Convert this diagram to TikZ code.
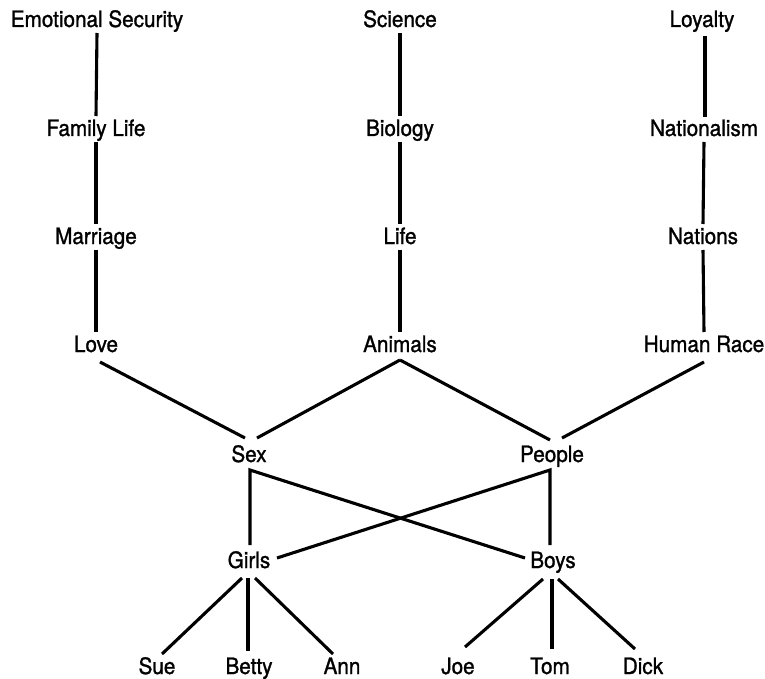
\documentclass[tikz,border=0pt]{standalone}
\usepackage{fontspec}
\setmainfont{TeX Gyre Heros}[FakeStretch=0.92,FakeBold=1.2]
\usetikzlibrary{calc}
\begin{document}
\begin{tikzpicture}[x=1pt,y=-1pt,
  lbl/.style={anchor=base, inner sep=0pt, font=\fontsize{22.5}{24}\selectfont},
  edge/.style={line width=3.1pt, line cap=butt}]
\useasboundingbox (0,0) rectangle (765,679);
% row 1
\node[lbl] (es)  at (97,27)  {Emotional Security};
\node[lbl] (sci) at (400,27) {Science};
\node[lbl] (loy) at (702,27) {Loyalty};
% row 2
\node[lbl] (fam) at (96,136)  {Family Life};
\node[lbl] (bio) at (400,136) {Biology};
\node[lbl] (nat) at (704,136) {Nationalism};
% row 3
\node[lbl] (mar) at (96,244)  {Marriage};
\node[lbl] (life) at (400,244) {Life};
\node[lbl] (nats) at (703,244) {Nations};
% row 4
\node[lbl] (love) at (96,352)  {Love};
\node[lbl] (ani)  at (400,352) {Animals};
\node[lbl] (hum)  at (704,352) {Human Race};
% row 5
\node[lbl] (sex) at (249,462) {Sex};
\node[lbl] (peo) at (552,462) {People};
% row 6
\node[lbl] (girls) at (249,568) {Girls};
\node[lbl] (boys)  at (553,568) {Boys};
% row 7
\node[lbl] (sue)   at (157,674) {Sue};
\node[lbl] (betty) at (249,674) {Betty};
\node[lbl] (ann)   at (342,674) {Ann};
\node[lbl] (joe)   at (458,674) {Joe};
\node[lbl] (tom)   at (550,674) {Tom};
\node[lbl] (dick)  at (643,674) {Dick};
% vertical chains
\draw[edge] ($(es.base)+(0,6)$) -- ($(fam.base)+(0,-20)$);
\draw[edge] ($(fam.base)+(0,6)$) -- ($(mar.base)+(0,-20)$);
\draw[edge] ($(mar.base)+(0,6)$) -- ($(love.base)+(0,-20)$);
\draw[edge] ($(sci.base)+(0,6)$) -- ($(bio.base)+(0,-20)$);
\draw[edge] ($(bio.base)+(0,6)$) -- ($(life.base)+(0,-20)$);
\draw[edge] ($(life.base)+(0,6)$) -- ($(ani.base)+(0,-20)$);
\draw[edge] ($(loy.base)+(3,9)$) -- ($(nat.base)+(1,-19)$);
\draw[edge] ($(nat.base)+(0,6)$) -- ($(nats.base)+(0,-20)$);
\draw[edge] ($(nats.base)+(0,6)$) -- ($(hum.base)+(0,-20)$);
% to Sex / People
\draw[edge] ($(love.base)+(4,10)$) -- ($(sex.base)+(-4,-24)$);
\draw[edge] ($(ani.base)+(0,8)$) -- ($(sex.base)+(8,-24)$);
\draw[edge] ($(ani.base)+(0,8)$) -- ($(peo.base)+(-2,-22)$);
\draw[edge] ($(hum.base)+(0,10)$) -- ($(peo.base)+(10,-24)$);
% Sex / People to Girls / Boys
\draw[edge] ($(girls.base)+(1,-23)$) -- ($(sex.base)+(1,8)$) -- ($(boys.base)+(-28,-10)$);
\draw[edge] ($(girls.base)+(28,-10)$) -- ($(peo.base)+(-2,8)$) -- ($(boys.base)+(-3,-23)$);
% Girls fan
\draw[edge] ($(girls.base)+(-7,10)$) -- ($(sue.base)+(5,-20)$);
\draw[edge] ($(girls.base)+(-1,10)$) -- ($(betty.base)+(-1,-23)$);
\draw[edge] ($(girls.base)+(6,10)$) -- ($(ann.base)+(-9,-20)$);
% Boys fan
\draw[edge] ($(boys.base)+(-10,11)$) -- ($(joe.base)+(7,-27)$);
\draw[edge] ($(boys.base)+(-1,11)$) -- ($(tom.base)+(2,-25)$);
\draw[edge] ($(boys.base)+(5,11)$) -- ($(dick.base)+(-8,-25)$);
\end{tikzpicture}
\end{document}
